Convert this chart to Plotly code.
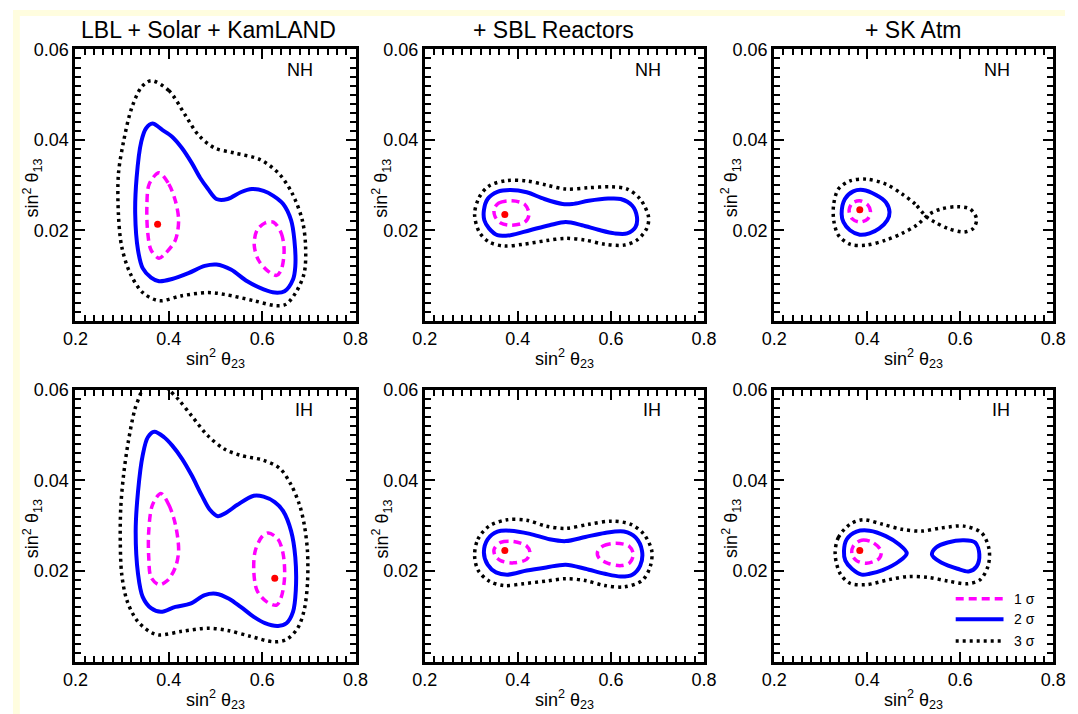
import plotly.graph_objects as go

W, H = 1078, 714

# ---------------- contour data: (sin^2 theta23, sin^2 theta13) ----------------
# LBL + Solar + KamLAND, normal hierarchy
lbl_nh_3s_x = [0.362, 0.400, 0.435, 0.463, 0.498, 0.540, 0.596, 0.637, 0.665, 0.686, 0.693, 0.690, 0.672, 0.651, 0.630,
               0.582, 0.519, 0.484, 0.428, 0.379, 0.344, 0.317, 0.299, 0.292, 0.292, 0.303, 0.320, 0.341, 0.362]
lbl_nh_3s_y = [0.0531, 0.0509, 0.0455, 0.0411, 0.0382, 0.0371, 0.0356, 0.0324, 0.0280, 0.0222, 0.0164, 0.0105, 0.0062,
               0.0036, 0.0033, 0.0044, 0.0058, 0.0062, 0.0055, 0.0044, 0.0062, 0.0105, 0.0164, 0.0236, 0.0324, 0.0396,
               0.0469, 0.0516, 0.0531]
lbl_nh_2s_x = [0.365, 0.386, 0.407, 0.428, 0.449, 0.467, 0.484, 0.502, 0.526, 0.554, 0.578, 0.603, 0.624, 0.645, 0.662,
               0.669, 0.671, 0.666, 0.648, 0.627, 0.603, 0.568, 0.533, 0.502, 0.477, 0.442, 0.407, 0.379, 0.362, 0.344,
               0.334, 0.328, 0.331, 0.341, 0.351, 0.365]
lbl_nh_2s_y = [0.0436, 0.0422, 0.0407, 0.0382, 0.0349, 0.0316, 0.0291, 0.0269, 0.0269, 0.0284, 0.0291, 0.0287, 0.0276,
               0.0258, 0.0222, 0.0178, 0.0120, 0.0091, 0.0065, 0.0062, 0.0069, 0.0087, 0.0113, 0.0124, 0.0121, 0.0105,
               0.0092, 0.0087, 0.0095, 0.0116, 0.0156, 0.0236, 0.0316, 0.0396, 0.0425, 0.0436]
lbl_nh_1s_a_x = [0.379, 0.400, 0.414, 0.421, 0.414, 0.393, 0.379, 0.362, 0.355, 0.353, 0.358, 0.379]
lbl_nh_1s_a_y = [0.0327, 0.0302, 0.0265, 0.0222, 0.0178, 0.0149, 0.0138, 0.0156, 0.0193, 0.0251, 0.0302, 0.0327]
lbl_nh_1s_b_x = [0.624, 0.641, 0.647, 0.641, 0.631, 0.613, 0.592, 0.583, 0.589, 0.606, 0.624]
lbl_nh_1s_b_y = [0.0218, 0.0193, 0.0156, 0.0113, 0.0100, 0.0109, 0.0134, 0.0167, 0.0200, 0.0216, 0.0218]
lbl_nh_best = (0.376, 0.0213)

# + SBL reactors, normal hierarchy
sbl_nh_3s_x = [0.307, 0.317, 0.338, 0.377, 0.419, 0.461, 0.503, 0.552, 0.601, 0.635, 0.663, 0.681, 0.677, 0.656, 0.628,
               0.587, 0.545, 0.503, 0.461, 0.412, 0.370, 0.338, 0.317, 0.307]
sbl_nh_3s_y = [0.0236, 0.0273, 0.0298, 0.0310, 0.0309, 0.0300, 0.0291, 0.0294, 0.0296, 0.0291, 0.0269, 0.0229, 0.0204,
               0.0178, 0.0167, 0.0169, 0.0178, 0.0182, 0.0177, 0.0169, 0.0165, 0.0174, 0.0196, 0.0236]
sbl_nh_2s_x = [0.327, 0.335, 0.356, 0.384, 0.419, 0.457, 0.496, 0.517, 0.552, 0.594, 0.621, 0.646, 0.656, 0.653, 0.635,
               0.608, 0.573, 0.538, 0.503, 0.468, 0.426, 0.384, 0.356, 0.338, 0.328, 0.327]
sbl_nh_2s_y = [0.0244, 0.0269, 0.0285, 0.0289, 0.0284, 0.0269, 0.0258, 0.0258, 0.0265, 0.0270, 0.0269, 0.0254, 0.0229,
               0.0207, 0.0193, 0.0193, 0.0201, 0.0211, 0.0218, 0.0211, 0.0200, 0.0189, 0.0189, 0.0204, 0.0222, 0.0244]
sbl_nh_1s_x = [0.349, 0.359, 0.387, 0.415, 0.424, 0.415, 0.387, 0.363, 0.351, 0.349]
sbl_nh_1s_y = [0.0247, 0.0260, 0.0265, 0.0257, 0.0235, 0.0218, 0.0211, 0.0216, 0.0230, 0.0247]
sbl_nh_best = (0.372, 0.0235)

# + SK atmospheric, normal hierarchy
atm_nh_3s_x = [0.527, 0.503, 0.475, 0.440, 0.398, 0.363, 0.338, 0.328, 0.328, 0.338, 0.363, 0.398, 0.440, 0.475, 0.506,
               0.534, 0.559, 0.594, 0.621, 0.635, 0.628, 0.608, 0.573, 0.545, 0.527]
atm_nh_3s_y = [0.0230, 0.0258, 0.0280, 0.0302, 0.0313, 0.0309, 0.0291, 0.0258, 0.0222, 0.0189, 0.0169, 0.0167, 0.0178,
               0.0193, 0.0211, 0.0236, 0.0247, 0.0252, 0.0247, 0.0225, 0.0204, 0.0196, 0.0204, 0.0218, 0.0230]
atm_nh_2s_x = [0.345, 0.352, 0.370, 0.391, 0.419, 0.440, 0.448, 0.443, 0.426, 0.405, 0.384, 0.363, 0.349, 0.345]
atm_nh_2s_y = [0.0236, 0.0269, 0.0286, 0.0289, 0.0278, 0.0262, 0.0240, 0.0222, 0.0204, 0.0193, 0.0190, 0.0200, 0.0218,
               0.0236]
atm_nh_1s_x = [0.384, 0.401, 0.407, 0.401, 0.384, 0.368, 0.361, 0.368, 0.384]
atm_nh_1s_y = [0.0265, 0.0256, 0.0242, 0.0225, 0.0218, 0.0225, 0.0244, 0.0260, 0.0265]
atm_nh_best = (0.384, 0.0245)

# LBL + Solar + KamLAND, inverted hierarchy
lbl_ih_3s_x = [0.337, 0.341, 0.327, 0.313, 0.303, 0.297, 0.296, 0.299, 0.310, 0.331, 0.358, 0.379, 0.428, 0.484, 0.526,
               0.575, 0.624, 0.652, 0.676, 0.690, 0.697, 0.697, 0.690, 0.680, 0.662, 0.638, 0.603, 0.554, 0.519, 0.484,
               0.449, 0.421, 0.400, 0.393]
lbl_ih_3s_y = [0.0607, 0.0600, 0.0556, 0.0484, 0.0411, 0.0339, 0.0266, 0.0194, 0.0136, 0.0092, 0.0067, 0.0059, 0.0067,
               0.0074, 0.0069, 0.0056, 0.0044, 0.0049, 0.0074, 0.0114, 0.0172, 0.0244, 0.0303, 0.0346, 0.0390, 0.0426,
               0.0444, 0.0455, 0.0469, 0.0498, 0.0542, 0.0578, 0.0600, 0.0607]
lbl_ih_2s_x = [0.369, 0.390, 0.407, 0.428, 0.449, 0.470, 0.488, 0.505, 0.522, 0.547, 0.582, 0.603, 0.627, 0.645, 0.662,
               0.671, 0.672, 0.666, 0.652, 0.634, 0.606, 0.582, 0.554, 0.529, 0.501, 0.477, 0.446, 0.414, 0.383, 0.362,
               0.344, 0.334, 0.329, 0.334, 0.344, 0.355, 0.369]
lbl_ih_2s_y = [0.0507, 0.0495, 0.0477, 0.0448, 0.0411, 0.0368, 0.0335, 0.0321, 0.0328, 0.0346, 0.0366, 0.0364, 0.0352,
               0.0332, 0.0288, 0.0230, 0.0157, 0.0110, 0.0085, 0.0079, 0.0085, 0.0099, 0.0121, 0.0139, 0.0150, 0.0147,
               0.0128, 0.0121, 0.0110, 0.0118, 0.0143, 0.0194, 0.0288, 0.0375, 0.0455, 0.0495, 0.0507]
lbl_ih_1s_a_x = [0.383, 0.400, 0.414, 0.421, 0.414, 0.397, 0.379, 0.362, 0.357, 0.357, 0.365, 0.383]
lbl_ih_1s_a_y = [0.0371, 0.0346, 0.0303, 0.0245, 0.0208, 0.0179, 0.0170, 0.0186, 0.0230, 0.0288, 0.0346, 0.0371]
lbl_ih_1s_b_x = [0.613, 0.634, 0.645, 0.648, 0.641, 0.631, 0.610, 0.589, 0.582, 0.585, 0.599, 0.613]
lbl_ih_1s_b_y = [0.0284, 0.0270, 0.0237, 0.0186, 0.0143, 0.0125, 0.0132, 0.0157, 0.0201, 0.0244, 0.0275, 0.0284]
lbl_ih_best = (0.627, 0.0184)

# + SBL reactors, inverted hierarchy
sbl_ih_3s_x = [0.307, 0.314, 0.338, 0.377, 0.419, 0.461, 0.503, 0.552, 0.601, 0.643, 0.671, 0.688, 0.684, 0.667, 0.628,
               0.587, 0.545, 0.503, 0.461, 0.412, 0.370, 0.338, 0.315, 0.307]
sbl_ih_3s_y = [0.0234, 0.0270, 0.0299, 0.0313, 0.0312, 0.0299, 0.0294, 0.0303, 0.0310, 0.0303, 0.0281, 0.0244, 0.0208,
               0.0179, 0.0165, 0.0168, 0.0179, 0.0183, 0.0178, 0.0172, 0.0168, 0.0178, 0.0201, 0.0234]
sbl_ih_2s_x = [0.327, 0.335, 0.356, 0.384, 0.426, 0.468, 0.503, 0.545, 0.587, 0.628, 0.653, 0.667, 0.663, 0.646, 0.621,
               0.587, 0.545, 0.503, 0.461, 0.419, 0.377, 0.353, 0.335, 0.327]
sbl_ih_2s_y = [0.0241, 0.0270, 0.0287, 0.0289, 0.0282, 0.0270, 0.0266, 0.0275, 0.0284, 0.0287, 0.0274, 0.0244, 0.0212,
               0.0192, 0.0188, 0.0194, 0.0205, 0.0214, 0.0208, 0.0201, 0.0192, 0.0197, 0.0214, 0.0241]
sbl_ih_1s_a_x = [0.349, 0.363, 0.391, 0.419, 0.426, 0.419, 0.391, 0.363, 0.351, 0.349]
sbl_ih_1s_a_y = [0.0248, 0.0263, 0.0265, 0.0255, 0.0241, 0.0226, 0.0218, 0.0223, 0.0234, 0.0248]
sbl_ih_1s_b_x = [0.571, 0.583, 0.611, 0.639, 0.648, 0.641, 0.622, 0.594, 0.575, 0.571]
sbl_ih_1s_b_y = [0.0241, 0.0255, 0.0261, 0.0255, 0.0237, 0.0219, 0.0212, 0.0217, 0.0228, 0.0241]
sbl_ih_best = (0.372, 0.0245)

# + SK atmospheric, inverted hierarchy
atm_ih_3s_x = [0.331, 0.338, 0.363, 0.391, 0.433, 0.475, 0.517, 0.559, 0.608, 0.646, 0.662, 0.660, 0.643, 0.615, 0.573,
               0.531, 0.489, 0.447, 0.398, 0.363, 0.342, 0.331]
atm_ih_3s_y = [0.0237, 0.0274, 0.0303, 0.0313, 0.0303, 0.0292, 0.0288, 0.0295, 0.0299, 0.0284, 0.0248, 0.0212, 0.0181,
               0.0172, 0.0178, 0.0186, 0.0188, 0.0181, 0.0170, 0.0173, 0.0194, 0.0237]
atm_ih_2s_a_x = [0.350, 0.356, 0.377, 0.405, 0.440, 0.468, 0.485, 0.468, 0.433, 0.405, 0.388, 0.367, 0.353, 0.350]
atm_ih_2s_a_y = [0.0244, 0.0270, 0.0287, 0.0289, 0.0277, 0.0259, 0.0239, 0.0221, 0.0202, 0.0194, 0.0192, 0.0205, 0.0223,
                 0.0244]
atm_ih_2s_b_x = [0.539, 0.548, 0.573, 0.608, 0.632, 0.641, 0.635, 0.618, 0.594, 0.559, 0.543, 0.539]
atm_ih_2s_b_y = [0.0237, 0.0252, 0.0263, 0.0268, 0.0263, 0.0237, 0.0210, 0.0199, 0.0205, 0.0219, 0.0230, 0.0237]
atm_ih_1s_x = [0.370, 0.388, 0.412, 0.430, 0.426, 0.398, 0.377, 0.367, 0.370]
atm_ih_1s_y = [0.0255, 0.0268, 0.0263, 0.0244, 0.0228, 0.0217, 0.0223, 0.0237, 0.0255]
atm_ih_best = (0.384, 0.0245)

panel_titles = ["LBL + Solar + KamLAND", "+ SBL Reactors", "+ SK Atm"]
hierarchy_labels = ["NH", "IH"]
sigma_labels = ["1 σ", "2 σ", "3 σ"]

x_tick_vals = [0.2, 0.4, 0.6, 0.8]
y_tick_vals = [0.02, 0.04, 0.06]

# panels in reading order: (1σ curves, 2σ curves, 3σ curves, best fit)
panels = [
    ([(lbl_nh_1s_a_x, lbl_nh_1s_a_y), (lbl_nh_1s_b_x, lbl_nh_1s_b_y)], [(lbl_nh_2s_x, lbl_nh_2s_y)],
     [(lbl_nh_3s_x, lbl_nh_3s_y)], lbl_nh_best),
    ([(sbl_nh_1s_x, sbl_nh_1s_y)], [(sbl_nh_2s_x, sbl_nh_2s_y)], [(sbl_nh_3s_x, sbl_nh_3s_y)], sbl_nh_best),
    ([(atm_nh_1s_x, atm_nh_1s_y)], [(atm_nh_2s_x, atm_nh_2s_y)], [(atm_nh_3s_x, atm_nh_3s_y)], atm_nh_best),
    ([(lbl_ih_1s_a_x, lbl_ih_1s_a_y), (lbl_ih_1s_b_x, lbl_ih_1s_b_y)], [(lbl_ih_2s_x, lbl_ih_2s_y)],
     [(lbl_ih_3s_x, lbl_ih_3s_y)], lbl_ih_best),
    ([(sbl_ih_1s_a_x, sbl_ih_1s_a_y), (sbl_ih_1s_b_x, sbl_ih_1s_b_y)], [(sbl_ih_2s_x, sbl_ih_2s_y)],
     [(sbl_ih_3s_x, sbl_ih_3s_y)], sbl_ih_best),
    ([(atm_ih_1s_x, atm_ih_1s_y)], [(atm_ih_2s_a_x, atm_ih_2s_a_y), (atm_ih_2s_b_x, atm_ih_2s_b_y)],
     [(atm_ih_3s_x, atm_ih_3s_y)], atm_ih_best),
]

# ---------------- styling ----------------
FONT = "Liberation Sans, Arial, Helvetica, sans-serif"
STYLE_1S = dict(color="#FF00FF", width=3.5, dash="8px,5px")
STYLE_2S = dict(color="#0000FF", width=4, dash="solid")
STYLE_3S = dict(color="#000000", width=3.5, dash="3px,4px")
YELLOW = "#FFFDDF"

col_px = [(64, 351), (422, 708), (780, 1066)]
row_px = [(40, 315), (385, 661)]


def px_x(p):
    return p / W


def px_y(p):
    return 1 - p / H


fig = go.Figure()
layout = dict(
    width=W, height=H,
    margin=dict(l=0, r=0, t=0, b=0),
    paper_bgcolor="white", plot_bgcolor="white",
    showlegend=False,
    font=dict(family=FONT, color="black", size=18),
    annotations=[], shapes=[],
)

for k, (s1, s2, s3, best) in enumerate(panels):
    r, c = divmod(k, 3)
    n = "" if k == 0 else str(k + 1)
    xa, ya = "x" + n, "y" + n
    for curves, st in ((s3, STYLE_3S), (s2, STYLE_2S), (s1, STYLE_1S)):
        for cx, cy in curves:
            fig.add_trace(go.Scatter(
                x=cx, y=cy, mode="lines", xaxis=xa, yaxis=ya,
                line=dict(shape="spline", smoothing=0.9, **st), hoverinfo="skip"))
    fig.add_trace(go.Scatter(x=[best[0]], y=[best[1]], mode="markers", xaxis=xa, yaxis=ya,
                             marker=dict(color="#FF0000", size=7), hoverinfo="skip"))

    x0, x1 = col_px[c]
    y0, y1 = row_px[r]
    common = dict(showline=True, linewidth=3, linecolor="black", mirror="ticks",
                  ticks="inside", ticklen=10, tickwidth=1.5, tickcolor="black",
                  showgrid=False, zeroline=False, fixedrange=True,
                  tickfont=dict(family=FONT, size=18, color="black"))
    layout["xaxis" + n] = dict(
        domain=[px_x(x0), px_x(x1)], anchor=ya, range=[0.2, 0.8],
        tickmode="array", tickvals=x_tick_vals, ticktext=[f"{v:.1f}" for v in x_tick_vals],
        minor=dict(ticks="inside", ticklen=6, tickwidth=1.5, tickcolor="black", dtick=0.02, tick0=0.2),
        **common)
    layout["yaxis" + n] = dict(
        domain=[px_y(y1), px_y(y0)], anchor=xa, range=[0, 0.06],
        tickmode="array", tickvals=y_tick_vals, ticktext=[f"{v:.2f}" for v in y_tick_vals],
        minor=dict(ticks="inside", ticklen=6, tickwidth=1.5, tickcolor="black", dtick=0.002, tick0=0),
        **common)

    # axis titles
    layout["annotations"].append(dict(
        text="sin<sup>2</sup> θ<sub>23</sub>", xref="paper", yref="paper",
        x=px_x((x0 + x1) / 2), y=px_y(y1 + 38), xanchor="center", yanchor="middle",
        showarrow=False, font=dict(size=18)))
    layout["annotations"].append(dict(
        text="sin<sup>2</sup> θ<sub>13</sub>", xref="paper", yref="paper",
        x=px_x(x0 - 44), y=px_y((y0 + y1) / 2 + 3), xanchor="center", yanchor="middle",
        textangle=-90, showarrow=False, font=dict(size=18)))
    # hierarchy label
    layout["annotations"].append(dict(
        text=hierarchy_labels[r], xref="paper", yref="paper",
        x=px_x(x1 - 42), y=px_y(y0 + 21), xanchor="right", yanchor="middle",
        showarrow=False, font=dict(size=18)))

# column titles
title_cx = [200, 554, 923]
for c, t in enumerate(panel_titles):
    layout["annotations"].append(dict(
        text=t, xref="paper", yref="paper", x=px_x(title_cx[c]), y=px_y(20),
        xanchor="center", yanchor="middle", showarrow=False, font=dict(size=23)))

# legend key in the last panel
key_styles = [STYLE_1S, STYLE_2S, STYLE_3S]
key_y = [597, 618, 640]
for lab, st, ky in zip(sigma_labels, key_styles, key_y):
    layout["shapes"].append(dict(
        type="line", xref="paper", yref="paper", x0=px_x(966), x1=px_x(1015), y0=px_y(ky), y1=px_y(ky),
        line=dict(color=st["color"], width=st["width"], dash=st["dash"])))
    layout["annotations"].append(dict(
        text=lab, xref="paper", yref="paper", x=px_x(1024), y=px_y(ky),
        xanchor="left", yanchor="middle", showarrow=False, font=dict(size=14)))

# pale yellow border along the top and left edges
layout["shapes"].append(dict(type="rect", xref="paper", yref="paper", x0=0, x1=1, y0=px_y(6), y1=1,
                             fillcolor=YELLOW, line=dict(width=0), layer="below"))
layout["shapes"].append(dict(type="rect", xref="paper", yref="paper", x0=0, x1=px_x(7), y0=0, y1=1,
                             fillcolor=YELLOW, line=dict(width=0), layer="below"))

fig.update_layout(**layout)
# pin the figure to the page corner
fig.write_html("out.html", post_script="document.body.style.margin='0px';")
